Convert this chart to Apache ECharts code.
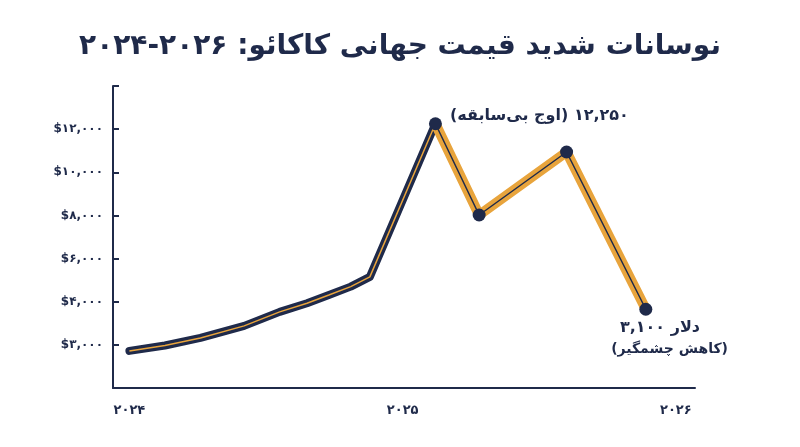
<!DOCTYPE html>
<html>
<head>
<meta charset="utf-8">
<script src="https://cdn.jsdelivr.net/npm/echarts@6/dist/echarts.min.js"></script>
<style>html,body{margin:0;background:#fff}#Chart{width:800px;height:447px}</style>
</head>
<body>
<div id="Chart"></div>
<script>
// داده‌ها
var years = [2024, 2025, 2026];
var yearLabels = ['۲۰۲۴', '۲۰۲۵', '۲۰۲۶'];
var yTicks = [2000, 4000, 6000, 8000, 10000, 12000];
var yLabels = ['$۳,۰۰۰', '$۴,۰۰۰', '$۶,۰۰۰', '$۸,۰۰۰', '$۱۰,۰۰۰', '$۱۲,۰۰۰'];
var riseX = [2024.0, 2024.13, 2024.26, 2024.42, 2024.55, 2024.65, 2024.73, 2024.81, 2024.88, 2025.12];
var riseY = [1720, 1970, 2320, 2880, 3530, 3930, 4310, 4700, 5150, 12250];
var fallX = [2025.12, 2025.28, 2025.60, 2025.89];
var fallY = [12250, 8020, 10940, 3650];

var navy = "#1f2a4a";
var orange = "#e8a43c";

function pairs(xs, ys) {
    var out = [];
    for (var i = 0; i < xs.length; i++) out.push([xs[i], ys[i]]);
    return out;
}

var myChart = echarts.init(document.getElementById("Chart"));
var font = "'DejaVu Sans', 'Noto Sans', sans-serif";
var option = {
    title: {
        text: 'نوسانات شدید قیمت جهانی کاکائو: ۲۰۲۶-۲۰۲۴',
        left: 'center', top: 28,
        textStyle: {fontFamily: font, fontSize: 28, fontWeight: 'bold', color: navy}
    },
    grid: {left: 113, right: 105, top: 86, bottom: 59},
    xAxis: {
        type: 'value', min: 2023.94, max: 2026.07,
        axisLine: {lineStyle: {color: navy, width: 2}},
        axisTick: {show: false},
        splitLine: {show: false},
        axisLabel: {
            customValues: years,
            formatter: function (v) { return yearLabels[years.indexOf(Math.round(v))] || ''; },
            color: navy, fontFamily: font, fontWeight: 'bold', fontSize: 13, margin: 16
        }
    },
    yAxis: {
        type: 'value', min: 0, max: 14000, interval: 2000,
        axisLine: {show: true, lineStyle: {color: navy, width: 2}},
        axisTick: {show: true, inside: true, length: 6, lineStyle: {color: navy, width: 2}},
        splitLine: {show: false},
        axisLabel: {
            formatter: function (v) { var i = yTicks.indexOf(v); return i < 0 ? '' : yLabels[i]; },
            color: navy, fontFamily: font, fontWeight: 'bold', fontSize: 12, margin: 10
        }
    },
    series: [
        {type: 'line', data: pairs(riseX, riseY), symbol: 'none',
            lineStyle: {color: navy, width: 8, cap: 'round', join: 'round'}},
        {type: 'line', data: pairs(riseX, riseY), symbol: 'none',
            lineStyle: {color: orange, width: 1.5}},
        {type: 'line', data: pairs(fallX, fallY), symbol: 'none',
            lineStyle: {color: orange, width: 10, cap: 'round', join: 'round'}},
        {type: 'line', data: pairs(fallX, fallY), symbol: 'circle', symbolSize: 13,
            itemStyle: {color: navy},
            lineStyle: {color: navy, width: 1.5}}
    ],
    graphic: [
        {type: 'text', left: 450, top: 108, style: {text: '(اوج بی‌سابقه) ۱۲,۲۵۰', fill: navy,
            font: 'bold 16px ' + font}},
        {type: 'text', right: 100, top: 320, style: {text: '۳,۱۰۰ دلار', fill: navy,
            font: 'bold 16px ' + font, align: 'right'}},
        {type: 'text', right: 72, top: 342, style: {text: '(کاهش چشمگیر)', fill: navy,
            font: 'bold 14px ' + font, align: 'right'}}
    ]
};
myChart.setOption(option);
</script>
</body>
</html>
